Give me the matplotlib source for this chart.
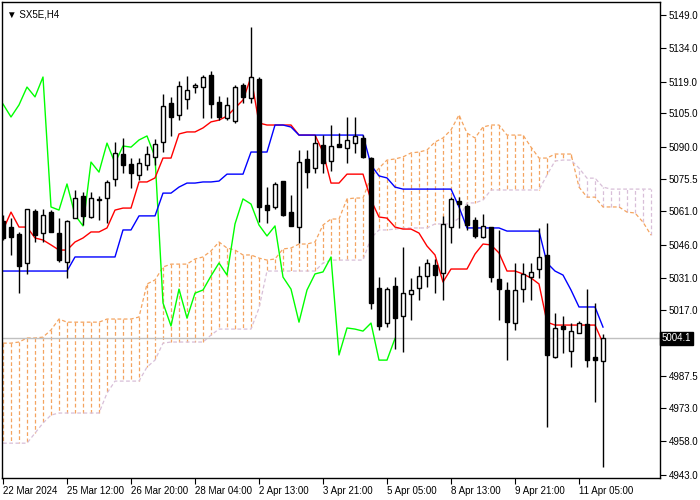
import matplotlib
matplotlib.use("Agg")
import matplotlib.pyplot as plt
import numpy as np

plt.rcParams['font.family'] = ['Liberation Sans', 'DejaVu Sans']

opens = [5056.7,5054.0,5050.9,5037.9,5061.2,5051.3,5060.7,5051.3,5038.3,5058.0,
         5067.9,5058.5,5066.1,5067.0,5075.5,5086.7,5082.2,5077.3,5081.8,5085.4,
         5092.1,5109.6,5104.2,5111.4,5116.7,5116.7,5122.1,5110.0,5102.8,5101.5,
         5117.6,5111.8,5120.3,5063.9,5063.0,5074.6,5060.7,5054.0,5084.5,5080.4,
         5090.7,5083.6,5091.2,5089.4,5091.6,5093.9,5084.9,5026.7,5011.0,5027.6,
         5014.1,5024.0,5026.7,5032.1,5037.0,5033.4,5054.0,5065.7,5063.4,5057.1,
         5049.5,5054.0,5030.7,5025.8,5011.0,5026.2,5031.6,5035.2,5041.5,4995.8,
         5009.7,4998.5,5006.5,5010.6,4995.8,4994.0]
highs = [5059.4,5058.0,5051.8,5062.1,5062.1,5062.1,5061.6,5058.0,5057.1,5070.6,
         5069.7,5069.7,5067.9,5075.1,5092.1,5093.9,5084.9,5084.9,5090.3,5093.4,
         5113.6,5112.2,5119.4,5121.7,5118.5,5122.1,5123.9,5112.7,5112.2,5117.6,
         5118.5,5143.6,5121.2,5071.9,5074.2,5074.6,5068.3,5088.5,5088.5,5095.2,
         5095.2,5099.7,5096.1,5103.3,5103.3,5095.2,5085.4,5031.6,5027.1,5031.6,
         5045.0,5031.2,5036.5,5039.7,5039.7,5058.9,5067.4,5067.4,5064.3,5058.5,
         5059.8,5054.0,5052.7,5029.4,5037.9,5037.9,5037.9,5053.6,5055.8,5015.5,
         5014.1,5011.0,5011.9,5026.2,5020.0,5006.1]
lows = [5048.2,5041.5,5024.4,5033.0,5047.3,5047.3,5051.8,5038.3,5031.2,5058.0,
        5054.9,5058.0,5057.1,5055.8,5072.4,5078.2,5071.5,5075.1,5079.5,5081.8,
        5087.6,5094.8,5102.0,5106.9,5114.0,5102.8,5102.8,5101.9,5101.9,5100.6,
        5109.6,5109.6,5056.2,5055.8,5062.1,5058.9,5054.5,5046.8,5071.5,5078.2,
        5078.2,5079.1,5089.8,5082.7,5087.2,5084.9,5017.3,5007.9,5009.2,4999.4,
        4998.0,5012.3,5021.3,5027.1,5024.4,5021.3,5046.8,5053.6,5052.7,5049.1,
        5049.1,5029.4,5012.3,4994.4,5007.9,5020.4,5021.3,5031.2,4964.4,4995.3,
        4997.6,4991.3,5006.5,4991.3,4975.6,4946.5]
closes = [5049.1,5049.6,5036.5,5062.1,5050.4,5059.4,5051.8,5039.2,5056.7,5067.0,
          5058.9,5067.0,5066.6,5074.2,5087.2,5081.8,5078.2,5082.7,5086.7,5091.2,
          5108.2,5103.3,5117.2,5115.4,5117.6,5121.2,5109.1,5103.3,5108.7,5116.7,
          5112.3,5121.2,5063.0,5061.6,5073.3,5059.4,5054.5,5083.1,5078.6,5091.6,
          5082.7,5090.3,5089.8,5093.0,5094.8,5085.4,5020.0,5009.7,5026.2,5013.2,
          5024.4,5025.8,5032.1,5037.9,5032.5,5055.4,5066.6,5064.3,5054.9,5050.0,
          5054.5,5031.6,5026.2,5011.4,5025.8,5033.0,5033.9,5040.6,4996.7,5008.8,
          5008.3,5007.4,5011.0,4994.4,4994.4,5004.1]

tenkan = [5052.7,5060.7,5054.0,5054.0,5049.1,5048.2,5046.0,5043.7,5043.7,5047.3,
          5049.1,5051.8,5051.8,5053.6,5061.6,5062.5,5062.5,5074.2,5074.2,5076.0,
          5084.9,5084.9,5095.7,5096.6,5096.6,5098.4,5101.1,5101.9,5103.7,5107.3,
          5110.9,5121.2,5100.6,5099.7,5099.7,5099.7,5099.7,5095.2,5095.2,5095.2,
          5087.6,5073.7,5073.7,5077.7,5077.7,5077.7,5066.1,5058.5,5058.0,5054.0,
          5053.1,5053.1,5051.3,5045.5,5041.5,5029.4,5035.2,5035.2,5035.2,5041.9,
          5046.4,5046.0,5042.4,5034.3,5034.3,5033.0,5031.2,5028.5,5011.4,5010.1,
          5010.1,5010.1,5010.1,5010.1,5010.1,5002.0]
kijun = [5034.3]*9 + [5040.6]*6 + [5052.7]*2 + [5059.0]*3 + [5069.2]*2 + [5071.9] + \
        [5073.7,5073.7,5074.2,5074.2,5074.6] + [5077.7]*3 + [5087.6]*3 + [5099.7]*2 + \
        [5098.8] + [5095.2]*9 + [5081.8,5076.9,5076.0,5071.9] + [5071.0]*7 + [5063.0] + \
        [5053.6]*5 + [5052.2]*5 + [5037.9,5034.3,5032.5,5025.8] + [5018.2]*3 + [5009.2]
span_a = [5002.0,5002.0,5002.5,5004.3,5004.3,5004.7,5007.9,5012.8,5011.4,5011.4,
          5011.4,5011.4,5011.4,5012.8,5012.8,5012.8,5012.8,5013.7,5028.5,5030.3,
          5036.1,5037.4,5037.4,5037.4,5039.7,5040.6,5043.3,5047.3,5044.6,5043.7,
          5041.5,5041.5,5040.1,5039.2,5039.7,5044.2,5044.6,5046.4,5046.4,5047.3,
          5054.9,5057.6,5057.6,5066.6,5067.0,5067.0,5076.4,5080.4,5084.0,5084.5,
          5085.4,5087.2,5087.6,5088.5,5092.1,5093.9,5097.5,5104.2,5096.1,5093.9,
          5098.8,5099.7,5099.7,5095.2,5095.2,5095.2,5089.8,5084.9,5084.9,5086.7,
          5086.7,5086.7,5071.9,5067.4,5067.4,5063.0,5063.0,5063.0,5060.7,5060.3,
          5056.2,5050.4]
span_b = [4957.2]*4 + [4961.7,4966.2,4969.8] + [4970.7]*6 + [4979.6] + [4985.0]*4 + \
         [4991.3,4994.4] + [5002.0] + [5002.5]*5 + [5005.6] + [5008.3]*5 + [5017.7] + \
         [5034.3]*7 + [5037.9] + [5039.2]*5 + [5049.1,5052.7,5052.7,5053.1] + [5053.6]*4 + \
         [5055.4]*3 + [5058.0,5064.8,5064.8,5066.1] + [5070.6]*7 + [5077.3,5083.6,5084.0,5084.0,
         5080.4,5075.9,5075.9,5071.9] + [5071.0]*6

tick_pos = [0, 8, 16, 24, 32, 40, 48, 56, 64, 72]
tick_labels = ["22 Mar 2024", "25 Mar 12:00", "26 Mar 20:00", "28 Mar 04:00", "2 Apr 13:00",
               "3 Apr 21:00", "5 Apr 05:00", "8 Apr 13:00", "9 Apr 21:00", "11 Apr 05:00"]
price_ticks = [5149.0, 5134.0, 5119.0, 5105.0, 5090.0, 5075.5, 5061.0, 5046.0, 5031.0,
               5017.0, 4987.5, 4973.0, 4958.0, 4943.0]
last_price = 5004.1

fig = plt.figure(figsize=(7, 5), dpi=100)
ax = fig.add_axes([2/700, 22/500, 658/700, 476/500])
ax.set_xlim(-0.125, 82.125)
ax.set_ylim(4941.6, 5154.8)

orange = "#f4a460"
lav = "#d8bfd8"
idx_c = np.arange(len(span_a))
for i in idx_c:
    col = orange if span_a[i] >= span_b[i] else lav
    ax.plot([i, i], [span_a[i], span_b[i]], color=col, lw=0.9, ls=(0, (3, 2)), zorder=1)
ax.plot(idx_c, span_a, color=orange, lw=0.9, ls=(0, (3, 2)), zorder=1)
ax.plot(idx_c, span_b, color=lav, lw=0.9, ls=(0, (3, 2)), zorder=1)

ax.axhline(last_price, color="#c0c0c0", lw=1, zorder=1)

n = len(closes)
idx = np.arange(n)
ax.plot(idx[:n-26], closes[26:], color="#00ff00", lw=1, zorder=2)
ax.plot(idx, tenkan, color="red", lw=1, zorder=2)
ax.plot(idx, kijun, color="blue", lw=1, zorder=2)

o = np.array(opens); c = np.array(closes)
ax.vlines(idx, lows, highs, color="black", lw=1, zorder=3)
up = c >= o
bottom = np.minimum(o, c)
height = np.maximum(np.abs(c - o), 0.4)
ax.bar(idx[up], height[up], bottom=bottom[up], width=0.6, color="white",
       edgecolor="black", lw=1, zorder=4)
ax.bar(idx[~up], height[~up], bottom=bottom[~up], width=0.6, color="black",
       edgecolor="black", lw=1, zorder=4)

ax.yaxis.tick_right()
ax.set_yticks(price_ticks)
ax.set_yticklabels([f"{p:.1f}" for p in price_ticks], fontsize=7)
ax.set_xticks(tick_pos)
ax.set_xticklabels(tick_labels, fontsize=7, ha="left")
ax.tick_params(axis="x", length=4, pad=2, direction="out")
ax.tick_params(axis="y", length=4, pad=2, direction="out")
for sp in ax.spines.values():
    sp.set_linewidth(1)

ax.text(1.003, last_price, f"{last_price:.1f}", transform=ax.get_yaxis_transform(),
        fontsize=7, color="white", va="center", ha="left",
        bbox=dict(boxstyle="square,pad=0.2", fc="black", ec="black"))
ax.text(0.008, 0.985, "▼ SX5E,H4", transform=ax.transAxes, fontsize=7, va="top", ha="left",
        family=['Liberation Sans', 'DejaVu Sans'])

fig.savefig("out.png", dpi=100)
